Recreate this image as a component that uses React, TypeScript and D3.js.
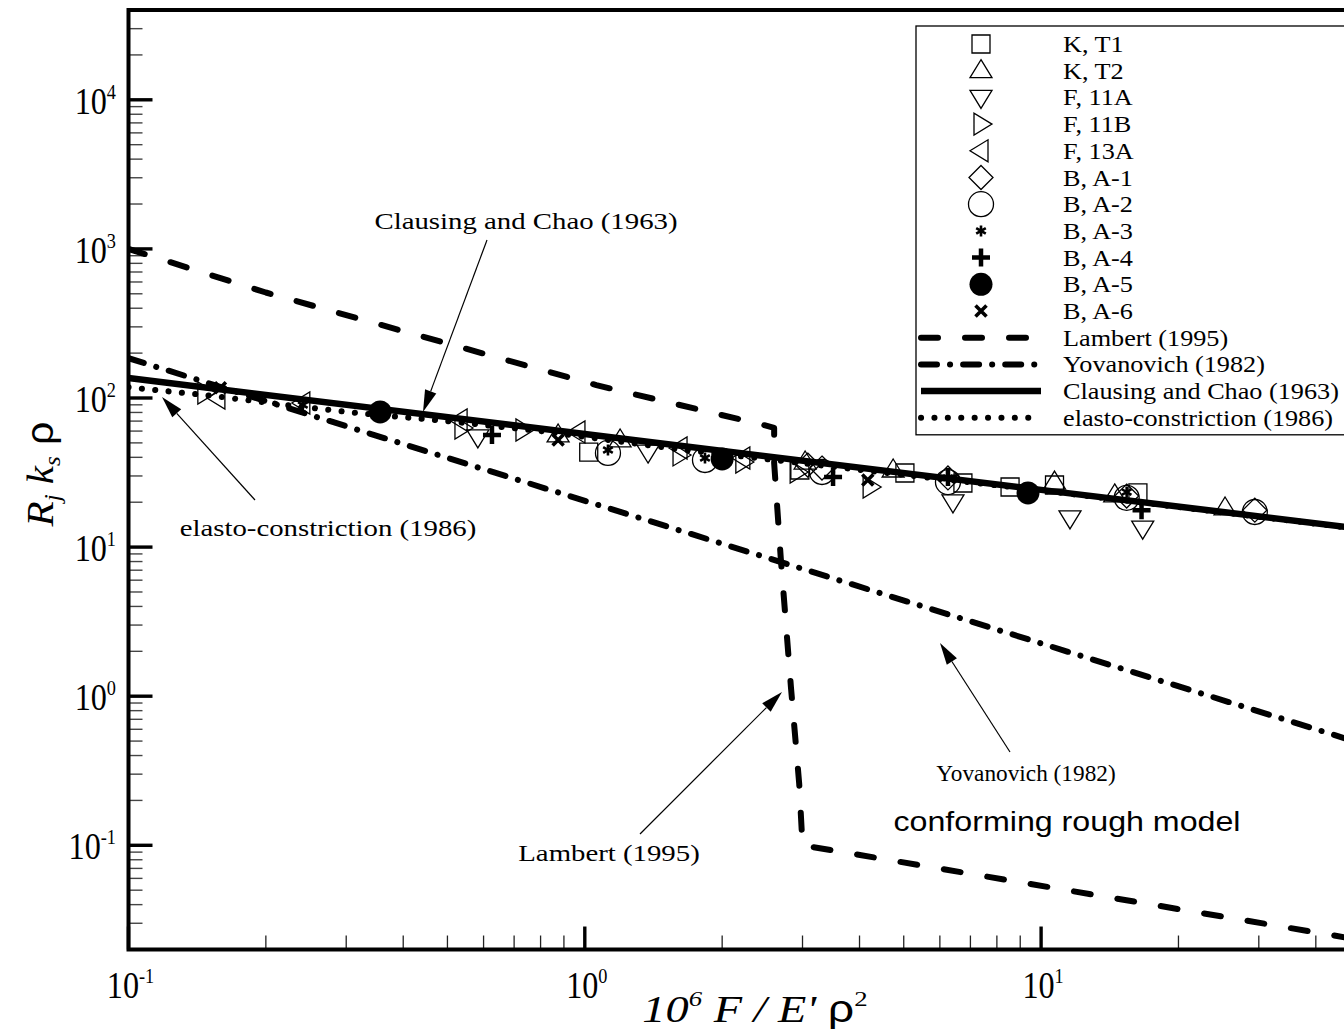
import React from 'react';
import * as d3 from 'd3';

const W = 1344;
const H = 1029;

// axes
const xDomain = [0.1, 50];
const yDomain = [0.02, 4e4];
const xMajor = [0.1, 1, 10];
const xMajorExp = ['-1', '0', '1'];
const yMajor = [0.1, 1, 10, 100, 1000, 10000];
const yMajorExp = ['-1', '0', '1', '2', '3', '4'];

const kT1X = [1.02, 2.96, 5.03, 6.74, 8.55, 10.7, 16.3];
const kT1Y = [43.4, 32.9, 31.4, 26.9, 25.3, 26.1, 23.1];
const kT2X = [0.874, 1.195, 3.04, 4.74, 10.7, 14.5, 25.3];
const kT2Y = [56.5, 52.3, 37.2, 32.9, 27.3, 22.4, 18.3];
const f11aX = [0.583, 1.376, 6.41, 11.57, 16.7];
const f11aY = [54.8, 43.4, 20.1, 15.7, 13.4];
const f11bX = [0.147, 0.538, 0.732, 1.617, 2.22, 2.92, 4.22];
const f11bY = [108, 62.9, 61.0, 41.5, 37.2, 31.9, 25.3];
const f13aX = [0.157, 0.241, 0.533, 0.966, 1.617, 2.22];
const f13aY = [100, 92.6, 71.2, 59.2, 46.2, 39.6];
const bA1X = [3.08, 3.31, 6.25, 15.4, 29.4];
const bA1Y = [35.5, 33.9, 29.1, 22.0, 17.7];
const bA2X = [1.124, 1.834, 3.31, 6.25, 15.4, 29.4];
const bA2Y = [42.8, 38.4, 31.9, 27.3, 21.4, 17.2];
const bA3X = [0.241, 1.124, 1.834, 6.25, 15.4];
const bA3Y = [89.8, 44.8, 39.6, 29.1, 23.4];
const bA4X = [0.626, 3.5, 6.25, 16.6];
const bA4Y = [56.5, 29.5, 29.5, 17.7];
const bA5X = [0.356, 2.0, 9.36];
const bA5Y = [80.6, 39.0, 23.1];
const bA6X = [0.159, 0.874, 4.17];
const bA6Y = [117, 52.3, 28.2];

const seriesLabels = ['K, T1', 'K, T2', 'F, 11A', 'F, 11B', 'F, 13A', 'B, A-1', 'B, A-2', 'B, A-3', 'B, A-4', 'B, A-5', 'B, A-6'];
const seriesShapes = ['square', 'triUp', 'triDown', 'triRight', 'triLeft', 'diamond', 'circle', 'star', 'plus', 'dot', 'cross'];
const seriesX = [kT1X, kT2X, f11aX, f11bX, f13aX, bA1X, bA2X, bA3X, bA4X, bA5X, bA6X];
const seriesY = [kT1Y, kT2Y, f11aY, f11bY, f13aY, bA1Y, bA2Y, bA3Y, bA4Y, bA5Y, bA6Y];

// model curves
const lambertX = [0.1, 0.2, 0.46, 1.06, 2.46, 2.6, 2.6, 2.69, 2.83, 2.95, 3.0, 50];
const lambertY = [1000, 510, 249, 122, 66, 63, 36.6, 8.2, 1.15, 0.26, 0.1, 0.0232];
const yovX = [0.1, 50];
const yovY = [185, 0.485];
const clausX = [0.1, 1, 10, 50];
const clausY = [136, 57.4, 24.2, 13.3];
const elastoX = [0.1, 0.15, 0.22, 0.32, 0.5, 0.8, 1.5, 3, 10, 50];
const elastoY = [118, 104, 90, 79, 70, 60, 46.5, 36.5, 24, 13.2];

const lineLabels = ['Lambert  (1995)', 'Yovanovich (1982)', 'Clausing and Chao (1963)', 'elasto-constriction (1986)'];

const serif = '"Liberation Serif", "Times New Roman", serif';
const sans = '"Liberation Sans", Arial, sans-serif';

const lineStyles = [
  { width: 6, dash: '17 27', cap: 'round' },
  { width: 6, dash: '16 13 0.1 13', cap: 'round' },
  { width: 6.5, dash: null, cap: 'butt' },
  { width: 6, dash: '0.1 13.3', cap: 'round' },
];

function Marker({ shape, cx, cy }: { shape: string; cx: number; cy: number }) {
  const t = `translate(${cx},${cy})`;
  const thin = { fill: 'none', stroke: '#000', strokeWidth: 1.3 };
  switch (shape) {
    case 'square':
      return <path transform={t} d="M-9,-9H9V9H-9Z" {...thin} />;
    case 'triUp':
      return <path transform={t} d="M0,-11L11,7L-11,7Z" {...thin} />;
    case 'triDown':
      return <path transform={t} d="M0,11L11,-7L-11,-7Z" {...thin} />;
    case 'triRight':
      return <path transform={t} d="M11,0L-7,-11L-7,11Z" {...thin} />;
    case 'triLeft':
      return <path transform={t} d="M-11,0L7,-11L7,11Z" {...thin} />;
    case 'diamond':
      return <path transform={t} d="M0,-12L12,0L0,12L-12,0Z" {...thin} />;
    case 'circle':
      return <circle cx={cx} cy={cy} r={12.5} {...thin} />;
    case 'star':
      return (
        <path transform={t} d="M0,-5.5V5.5M-4.8,-2.8L4.8,2.8M-4.8,2.8L4.8,-2.8" stroke="#000" strokeWidth={2.6} />
      );
    case 'plus':
      return <path transform={t} d="M-9,0H9M0,-9V9" stroke="#000" strokeWidth={4.5} />;
    case 'dot':
      return <circle cx={cx} cy={cy} r={11.5} fill="#000" />;
    case 'cross':
      return <path transform={t} d="M-5.5,-5.5L5.5,5.5M-5.5,5.5L5.5,-5.5" stroke="#000" strokeWidth={3.6} />;
    default:
      return null;
  }
}

function Arrow({ x1, y1, x2, y2 }: { x1: number; y1: number; x2: number; y2: number }) {
  const a = Math.atan2(y2 - y1, x2 - x1);
  const len = 22;
  const hw = 6;
  const bx = x2 - len * Math.cos(a);
  const by = y2 - len * Math.sin(a);
  const px = -Math.sin(a) * hw;
  const py = Math.cos(a) * hw;
  return (
    <g>
      <line x1={x1} y1={y1} x2={bx} y2={by} stroke="#000" strokeWidth={1.2} />
      <path d={`M${x2},${y2}L${bx + px},${by + py}L${bx - px},${by - py}Z`} fill="#000" />
    </g>
  );
}

// text with a horizontal stretch, the figure's fonts are wider than Times
function SText({ x, y, sx, fs, anchor, family, children }: any) {
  return (
    <text transform={`translate(${x},${y}) scale(${sx},1)`} fontSize={fs} textAnchor={anchor || 'start'} fontFamily={family || serif}>
      {children}
    </text>
  );
}

export default function App() {
  const x = d3.scaleLog().domain(xDomain).range([128.5, 128.5 + 456.3 * Math.log10(500)]);
  const y = d3.scaleLog().domain(yDomain).range([398 + 149.1 * (2 - Math.log10(0.02)), 398 - 149.1 * (Math.log10(4e4) - 2)]);

  const [x0, x1] = x.range();
  const [yb, yt] = y.range();

  const line = d3
    .line<[number, number]>()
    .x((d) => x(d[0]))
    .y((d) => y(d[1]));

  const zip = (a: number[], b: number[]) => a.map((v, i) => [v, b[i]] as [number, number]);
  const curves = [zip(lambertX, lambertY), zip(yovX, yovY), zip(clausX, clausY), zip(elastoX, elastoY)];

  const isMajor = (v: number) => Math.abs(Math.log10(v) - Math.round(Math.log10(v))) < 1e-9;
  const xMinor = x.ticks().filter((v) => !isMajor(v) && v > xDomain[0] && v < xDomain[1]);
  const yMinor = y.ticks().filter((v) => !isMajor(v) && v > yDomain[0] && v < yDomain[1]);

  const legX = 916;
  const legTop = 26;
  const rowH = 26.7;
  const row0 = 44;
  const nRows = seriesLabels.length + lineLabels.length;

  return (
    <svg
      width={W}
      height={H}
      viewBox={`0 0 ${W} ${H}`}
      style={{ position: 'absolute', left: 0, top: 0, background: '#fff' }}
      fontFamily={serif}
    >
      <defs>
        <clipPath id="plotClip">
          <rect x={x0} y={yt} width={x1 - x0} height={yb - yt} />
        </clipPath>
      </defs>
      <rect x={0} y={0} width={W} height={H} fill="#fff" />

      {/* minor ticks */}
      {yMinor.map((v, i) => (
        <line key={'ym' + i} x1={x0} x2={x0 + 14} y1={y(v)} y2={y(v)} stroke="#444" strokeWidth={1.4} />
      ))}
      {xMinor.map((v, i) => (
        <line key={'xm' + i} x1={x(v)} x2={x(v)} y1={yb} y2={yb - 14} stroke="#222" strokeWidth={1.3} />
      ))}
      {/* major ticks */}
      {yMajor.map((v, i) => (
        <line key={'yM' + i} x1={x0} x2={x0 + 24} y1={y(v)} y2={y(v)} stroke="#000" strokeWidth={3.4} />
      ))}
      {xMajor.map((v, i) => (
        <line key={'xM' + i} x1={x(v)} x2={x(v)} y1={yb} y2={yb - 23} stroke="#000" strokeWidth={3.4} />
      ))}

      {/* model curves */}
      <g clipPath="url(#plotClip)">
        {curves.map((c, i) => (
          <path
            key={'c' + i}
            d={line(c) || ''}
            fill="none"
            stroke="#000"
            strokeWidth={lineStyles[i].width}
            strokeDasharray={lineStyles[i].dash || undefined}
            strokeLinecap={lineStyles[i].cap as any}
            strokeLinejoin="round"
          />
        ))}
      </g>

      {/* data markers */}
      {seriesX.map((xs, si) =>
        xs.map((xv, j) => <Marker key={`m${si}-${j}`} shape={seriesShapes[si]} cx={x(xv)} cy={y(seriesY[si][j])} />)
      )}

      {/* frame */}
      <path d={`M${x0},${yt}H${x1}V${yb}H${x0}Z`} fill="none" stroke="#000" strokeWidth={4} />

      {/* tick labels */}
      {yMajor.map((v, i) => (
        <SText key={'yl' + i} x={116} y={y(v) + 14} sx={0.87} fs={37} anchor="end">
          10
          <tspan dy={-15} fontSize={21}>
            {yMajorExp[i]}
          </tspan>
        </SText>
      ))}
      {xMajor.map((v, i) => (
        <SText key={'xl' + i} x={x(v) + 2} y={yb + 48} sx={0.87} fs={37} anchor="middle">
          10
          <tspan dy={-15} fontSize={21}>
            {xMajorExp[i]}
          </tspan>
        </SText>
      ))}

      {/* axis titles */}
      <SText x={755} y={1022} sx={1.22} fs={38} anchor="middle">
        <tspan fontStyle="italic">10</tspan>
        <tspan fontStyle="italic" dy={-16} fontSize={22}>
          6
        </tspan>
        <tspan fontStyle="italic" dy={16}>
          {' F / E\' '}
        </tspan>
        <tspan fontFamily={sans}>ρ</tspan>
        <tspan dy={-16} fontSize={22}>
          2
        </tspan>
      </SText>
      <text transform="translate(53,474) rotate(-90) scale(1.08,1)" textAnchor="middle" fontSize={38}>
        <tspan fontStyle="italic">R</tspan>
        <tspan fontStyle="italic" fontSize={23} dy={7}>
          j
        </tspan>
        <tspan fontStyle="italic" dy={-7}>
          {' k'}
        </tspan>
        <tspan fontStyle="italic" fontSize={23} dy={7}>
          s
        </tspan>
        <tspan fontFamily={sans} dy={-7}>
          {' ρ'}
        </tspan>
      </text>

      {/* annotations */}
      <SText x={526} y={229} sx={1.2} fs={24} anchor="middle">
        Clausing and Chao (1963)
      </SText>
      <Arrow x1={487} y1={240} x2={423} y2={412} />
      <SText x={328} y={536} sx={1.2} fs={24} anchor="middle">
        elasto-constriction (1986)
      </SText>
      <Arrow x1={255} y1={500} x2={162} y2={397} />
      <SText x={609} y={861} sx={1.2} fs={24} anchor="middle">
        Lambert (1995)
      </SText>
      <Arrow x1={640} y1={834} x2={782} y2={692} />
      <SText x={1026} y={781} sx={1.03} fs={22.6} anchor="middle">
        Yovanovich (1982)
      </SText>
      <Arrow x1={1010} y1={752} x2={940} y2={643} />
      <SText x={1067} y={831} sx={1.15} fs={28} anchor="middle" family={sans}>
        conforming rough model
      </SText>

      {/* legend */}
      <rect x={legX} y={legTop} width={W - legX + 4} height={row0 + rowH * (nRows - 1) + 17 - legTop} fill="#fff" stroke="#000" strokeWidth={1.3} />
      {seriesLabels.map((s, i) => (
        <g key={'ls' + i}>
          <Marker shape={seriesShapes[i]} cx={981} cy={row0 + rowH * i} />
          <SText x={1063} y={row0 + rowH * i + 8} sx={1.16} fs={22.6}>
            {s}
          </SText>
        </g>
      ))}
      {lineLabels.map((s, k) => {
        const i = seriesLabels.length + k;
        const yy = row0 + rowH * i;
        return (
          <g key={'ll' + k}>
            <line
              x1={921}
              x2={1041}
              y1={yy}
              y2={yy}
              stroke="#000"
              strokeWidth={lineStyles[k].width}
              strokeDasharray={lineStyles[k].dash || undefined}
              strokeLinecap={lineStyles[k].cap as any}
            />
            <SText x={1063} y={yy + 8} sx={1.16} fs={22.6}>
              {s}
            </SText>
          </g>
        );
      })}
    </svg>
  );
}
